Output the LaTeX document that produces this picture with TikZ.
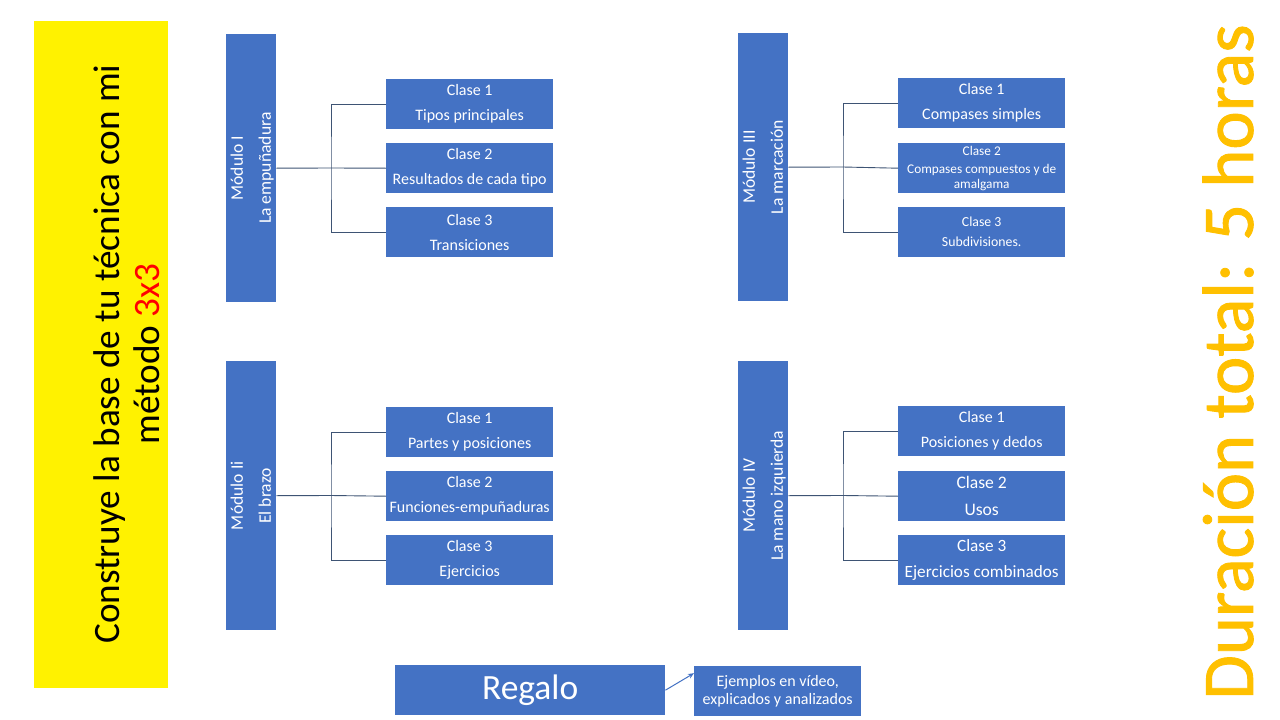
\documentclass[tikz,border=0pt]{standalone}
\usepackage{fontspec}
\setmainfont{Carlito}
\newfontfamily\titlefont{Carlito}[FakeBold=1.2]
\usetikzlibrary{calc,arrows.meta}
\definecolor{boxblue}{HTML}{4472C4}
\definecolor{conncol}{HTML}{3E5474}
\definecolor{gold}{HTML}{FFC000}
\tikzset{
  modbox/.style={fill=boxblue, draw=none, minimum width=50pt, minimum height=268pt, inner sep=0pt, text=white, font=\fontsize{17.6}{28}\selectfont},
  clsbox/.style={fill=boxblue, draw=none, minimum width=167pt, minimum height=50pt, inner sep=0pt, text=white, align=center, font=\fontsize{16}{25}\selectfont},
  conn/.style={draw=conncol, line width=0.9pt},
}
\newcommand{\modtext}[2]{\makebox[0pt]{\rotatebox{90}{\begin{tabular}{@{}c@{}}#1\\#2\end{tabular}}}}
\begin{document}
\begin{tikzpicture}[x=1pt,y=-1pt]
\useasboundingbox[fill=white] (0,0) rectangle (1280,720);

% left yellow panel
\node[fill=yellow, minimum width=134pt, minimum height=667pt, inner sep=0pt, anchor=north west] (panel) at (34,21) {};
\node[rotate=90, align=center, font=\fontsize{37.2}{40}\selectfont, text=black] (slogan) at (127,354)
  {Construye la base de tu técnica con mi\\método \textcolor{red}{3x3}};

% right title
\node[rotate=90, font=\titlefont\fontsize{72.5}{78}\selectfont, text=gold] (title) at (1228,362) {Duración total: 5 horas};

% Module I
\node[modbox, anchor=north west] (m1) at (226,34) {\modtext{Módulo I}{La empuñadura}};
\node[clsbox, anchor=north west] (c11) at (386,79) {Clase 1\\Tipos principales};
\node[clsbox, anchor=north west] (c12) at (386,143) {Clase 2\\Resultados de cada tipo};
\node[clsbox, anchor=north west] (c13) at (386,207) {Clase 3\\Transiciones};
\coordinate (j1) at (331,168);
\draw[conn] (m1.east) -- (j1);
\draw[conn] (c11.west) -| (j1) |- (c13.west);
\draw[conn] (j1) -- (c12.west);

% Module III
\node[modbox, anchor=north west] (m3) at (738,33) {\modtext{Módulo III}{La marcación}};
\node[clsbox, anchor=north west] (c31) at (898,78) {Clase 1\\Compases simples};
\node[clsbox, anchor=north west, font=\fontsize{13.3}{18}\selectfont] (c32) at (898,143) {Clase 2\\Compases compuestos y de\\[-3pt]amalgama};
\node[clsbox, anchor=north west, font=\fontsize{13.8}{20}\selectfont] (c33) at (898,207) {Clase 3\\Subdivisiones.};
\coordinate (j3) at (843,167);
\draw[conn] (m3.east) -- (j3);
\draw[conn] (c31.west) -| (j3) |- (c33.west);
\draw[conn] (j3) -- (c32.west);

% Module II
\node[modbox, anchor=north west, minimum height=269pt] (m2) at (226,361) {\modtext{Módulo Ii}{El brazo}};
\node[clsbox, anchor=north west] (c21) at (386,407) {Clase 1\\Partes y posiciones};
\node[clsbox, anchor=north west] (c22) at (386,471) {Clase 2\\Funciones-empuñaduras};
\node[clsbox, anchor=north west] (c23) at (386,535) {Clase 3\\Ejercicios};
\coordinate (j2) at (331,495.5);
\draw[conn] (m2.east) -- (j2);
\draw[conn] (c21.west) -| (j2) |- (c23.west);
\draw[conn] (j2) -- (c22.west);

% Module IV
\node[modbox, anchor=north west, minimum height=269pt] (m4) at (738,361) {\modtext{Módulo IV}{La mano izquierda}};
\node[clsbox, anchor=north west, font=\fontsize{16}{25}\selectfont] (c41) at (898,406) {Clase 1\\Posiciones y dedos};
\node[clsbox, anchor=north west, font=\fontsize{17.6}{27}\selectfont] (c42) at (898,471) {Clase 2\\Usos};
\node[clsbox, anchor=north west, font=\fontsize{17.2}{26}\selectfont] (c43) at (898,535) {Clase 3\\Ejercicios combinados};
\coordinate (j4) at (843,495.5);
\draw[conn] (m4.east) -- (j4);
\draw[conn] (c41.west) -| (j4) |- (c43.west);
\draw[conn] (j4) -- (c42.west);

% Regalo
\node[fill=boxblue, minimum width=270pt, minimum height=50pt, inner sep=0pt, text=white, font=\fontsize{35.5}{40}\selectfont, anchor=north west] (regalo) at (395,665) {Regalo};
\node[fill=boxblue, minimum width=167pt, minimum height=50pt, inner sep=0pt, text=white, align=center, font=\fontsize{16}{18}\selectfont, anchor=north west] (ejem) at (694,666) {Ejemplos en vídeo,\\explicados y analizados};
\draw[draw=boxblue, line width=1pt, -{Stealth[length=6pt,width=5pt]}] (regalo.east) -- ($(ejem.west)+(0,-18)$);
\end{tikzpicture}
\end{document}
